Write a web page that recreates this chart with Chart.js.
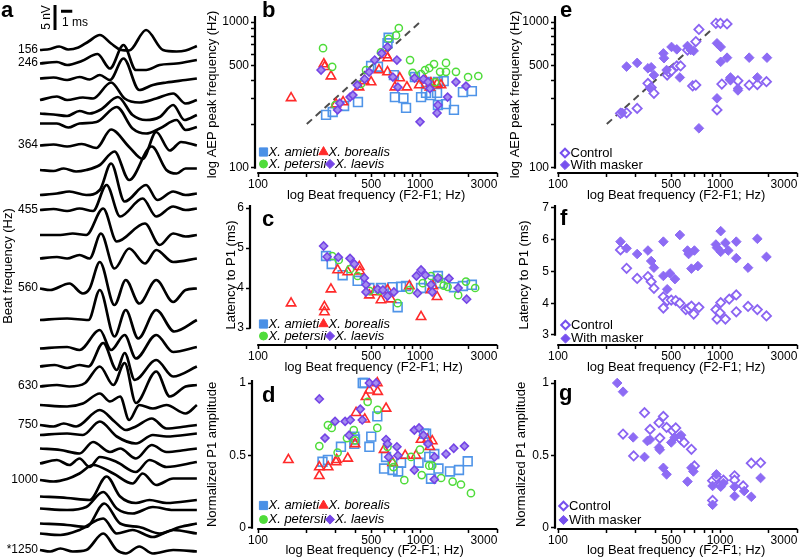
<!DOCTYPE html>
<html><head><meta charset="utf-8">
<script src="https://cdn.jsdelivr.net/npm/chart.js@4.4.1/dist/chart.umd.min.js"></script>
<style>
html,body{margin:0;padding:0;background:#fff;width:800px;height:558px;overflow:hidden;position:relative}
canvas{position:absolute}
</style></head><body>
<script>
// ===================== DATA =====================
// Panel a: AEP waveforms (time in ms, amplitude in nV), stacked by beat frequency
const traceLabels = ['156','246','','','','','364','','','455','','','560','','','','630','','750','','','','1000','','','','','*1250'];
const traceOffsetNV = [10,12.7,15.7,20,22.7,24.7,29.1,34,39,42,47,51.7,57.7,64,69.7,73.3,77.3,81,85,87,89.7,92.7,96,99.3,101.7,104.7,106.7,110];
const traceTimesMs = [
[0,0.9,1.7,2.5,3.4,4.3,5.3,6.3,7.2,7.9,9.4,10.9,12.1,12.9,13.9],
[0,1.5,2.4,3.7,5.1,6.2,7.4,8.5,9.4,10.6,12.1,13.9],
[0,1.2,2.4,3.5,4.4,5.3,6.2,7.4,8.8,10,11.2,12.9,13.9],
[0,1.5,2.4,3.8,4.7,6.3,7.5,8.8,10.3,11.8,12.9,13.9],
[0,1.2,2.4,3.5,4.4,5.4,6.9,8.2,9.4,10.6,11.8,12.8,13.9],
[0,1.5,2.5,3.5,5,6.8,8.2,9.4,10.6,12.1,12.9,13.9],
[0,1.2,2.4,3.7,5,6.3,7.9,9.1,10.3,11.5,12.5,13.9],
[0,1.2,2.1,3.2,4.1,5.3,6.6,7.9,9.9,11.2,12.1,12.9,13.9],
[0,1.5,2.6,4.1,5.3,6.3,7.5,9.4,10.4,11.8,12.9,13.9],
[0,1.2,2.4,3.5,4.7,5.9,7.1,9.1,10.3,11.8,12.9,13.9],
[0,1.8,2.9,4.1,5.6,6.8,9.3,10.6,11.8,12.9,13.9],
[0,1.5,2.4,3.5,4.4,5.4,6.6,7.9,9.3,10.3,11.8,13.9],
[0,0.9,2.6,3.8,4.4,5.3,6.6,7.6,8.8,10.3,11.8,12.9,13.9],
[0,2.4,4.3,5.3,6.6,7.6,8.7,10.3,11.9,13.9],
[0,2.4,3.5,5.3,6.3,7.5,8.5,10.3,11.8,13.9],
[0,1.3,2.4,3.5,4.3,5.6,6.8,7.5,8.4,10.3,11.8,13.9],
[0,1.5,2.6,4,5.3,6.5,7.5,8.5,10.3,11.5,12.9,13.9],
[0,2.4,3.8,5.3,6.2,7.1,7.9,8.8,10,11.2,12.9,13.9],
[0,1.2,2.1,3.2,5.3,6.6,7.6,8.5,9.9,11.2,12.9,13.9],
[0,2.4,3.8,5.3,6.8,8.5,10,11.2,13.9],
[0,1.8,3.5,4.7,6.2,7.1,8.5,9.9,11.2,12.9,13.9],
[0,1.5,2.6,3.5,4.4,5.3,6.8,8.5,9.7,11.2,13.9],
[0,1.2,2.4,3.5,4.7,6.5,8.2,9.1,10.3,11.8,13.9],
[0,2.4,4.4,5.9,7.1,8.5,9.7,11.2,13.9],
[0,2.4,4.1,5.6,6.8,8.2,10,11.8,13.9],
[0,2.4,4.1,5.7,7.1,8.8,10.6,12.4,13.9],
[0,1.8,3.5,5.6,6.8,8.2,10,11.8,13.9],
[0,0.9,1.8,2.9,4.1,5.6,6.8,7.6,8.8,10,11.8,13.9]
];
const traceAmpsNV = [
[0,0.2,0.7,0.1,0.5,1.7,3,1.3,0,-0.1,4,0,-0.3,-0.1,0.8],
[0,0.3,-0.3,0.5,1.9,-1,3.7,-1.3,-1.3,-0.3,0,0.7],
[0,0.2,-0.3,0.3,-0.2,0.7,-0.3,4,-2.3,-1.3,-0.8,-0.3,0],
[0,0.7,0,0.5,0.3,3.5,0.3,-0.5,0.3,1.3,-0.7,0],
[0,-0.2,-0.5,0.5,0,0.8,3.3,-0.3,-1.3,-0.7,1.7,-1.3,-0.3],
[0,0,-0.8,0,0.3,3.3,-1,-2,-1,0.7,-1.3,-0.7],
[0,0.2,-0.2,0.3,-0.5,3.2,-0.3,-2.7,2.7,-1,0.7,0],
[0,-0.2,0.3,-0.3,0,1,3.7,-2,4.7,0,-0.7,0.3,0.3],
[0,0.3,0.7,0,1,6.3,-1.3,2,-1,0.7,0,0.3],
[0,0.2,-0.2,0.3,-0.2,5,-1.3,2.3,-1.3,0.7,0,0.3],
[0,0,0.3,0,5.3,-1.3,2.3,-2,0.3,-0.3,0],
[0,0.3,0,0.7,0,5,-2,2,-1,1.7,-0.7,0],
[0,-0.3,1,-1,0,5.3,-3.3,1.7,-3,1.7,-2.7,-0.3,0],
[0,0.3,0,6,-3.3,2,-3.7,2,-2.3,0],
[0,0.3,-0.3,3.7,-0.3,2.7,-2,2.7,-0.7,0.3],
[0,0.3,-0.3,0.3,0,4.7,-0.7,2.7,-2.7,1.3,-2,0],
[0,0.3,0,0.7,4,0.3,4.7,-3.3,3,-2,0,0.3],
[0,-0.3,0.3,2.3,0.7,1.7,-3,0,-0.7,0,-1.7,0],
[0,-0.3,0.3,-0.3,3,0.7,-1,-0.3,1.3,-0.7,-0.3,0],
[0,0.3,0,2.7,-0.3,-1.7,0,-0.3,0.3],
[0,-0.3,-1,1.3,-0.7,0,-2,0.7,-0.7,-0.3,0],
[0,0.7,-0.3,1,-0.7,1.3,0.3,-1.7,0.7,-0.7,0.3],
[0,-0.3,0.2,1.3,3,1.3,-0.7,1.3,-1,0.3,0.3],
[0,-0.3,-0.7,4,0,-1.3,-0.7,-1.3,-0.7],
[0,-0.3,0.3,3.3,0,-1,0.3,-0.3,-0.3],
[0,-0.3,-0.7,4,0,-0.7,-2,-0.7,0],
[0,-0.3,0.7,3,0,0.7,-0.7,0.7,0],
[0,-0.3,0.3,-0.3,0,3.3,0,-0.7,0.7,-0.7,0,-0.3]
];
const scaleBarNV = 5, scaleBarMs = 1;

// Shared x axis (beat frequency, Hz)
const xTickValues = [100,200,300,400,500,600,700,800,900,1000,2000,3000];
const xTickLabels = ['100','','','','500','','','','','1000','','3000'];
const logYTickValues = [100,200,300,400,500,600,700,800,900,1000];
const logYTickLabels = ['100','','','','500','','','','','1000'];
const latYTickValues = [3,4,5,6];
const latYTickValuesF = [3,4,5,6,7];
const ampYTickValues = [0,0.5,1];
const ampYTickLabels = ['0','0.5','1'];

// Panel b: AEP peak frequency vs beat frequency
const bAmietiX = [263,289,340,414,499,550,630,640,690,700,790,820,1015,1089,1169,1274,1400,1447,1290,1620,1840,2090,1089,1290,930];
const bAmietiY = [231,242,266,283,500,494,716,780,433,306,301,258,306,327,316,327,394,274,270,250,331,336,388,388,420];
const bBorealisX = [160,255,258,282,303,335,420,452,499,558,617,630,630,700,750,830,990,1075,1169,1274,1348,1150];
const bBorealisY = [302,515,493,426,274,283,358,395,388,469,594,567,454,358,413,358,370,401,382,376,370,358];
const bPetersiiX = [252,287,300,432,574,640,711,740,868,1015,1075,1140,1220,1330,1447,1447,1667,1980,2290,1240,900,464];
const bPetersiiY = [662,493,270,376,620,768,810,910,549,440,469,484,515,456,525,456,456,420,427,388,448,469];
const bLaevisX = [245,310,320,370,385,410,455,485,525,580,630,720,680,925,1050,1120,1150,1290,1274,1480,1667,1922,1000,730];
const bLaevisY = [469,250,278,306,316,370,407,454,549,610,675,549,420,413,407,388,350,270,238,306,388,364,207,358];
const bUnityLine = [200,1000];

// Panel c: latency to P1 (ms)
const cAmietiX = [263,285,333,412,487,574,677,728,764,820,1015,1140,1290,1330,1620,1840,2090];
const cAmietiY = [4.8,4.6,4.32,4.18,4.0,4.0,4.02,3.52,4.03,4.05,4.0,4.2,4.3,4.12,4.02,4.05,4.08];
const cBorealisX = [160,257,257,282,310,358,422,425,487,523,574,630,662,860,1015,1169,1274,1200];
const cBorealisY = [3.62,3.53,3.4,3.97,4.45,4.4,4.53,4.42,3.82,3.9,3.7,3.95,3.72,4.05,3.28,3.95,3.78,4.05];
const cPetersiiX = [287,315,370,412,487,560,728,860,1040,1169,1310,1480,1720,1922,2190,1400];
const cPetersiiY = [4.8,4.7,4.47,4.3,3.93,3.93,3.62,3.95,4.12,4.3,4.24,4.03,3.82,4.16,4.0,4.06];
const cLaevisX = [254,267,313,370,393,453,464,464,548,590,630,690,965,1015,1080,950,1169,1190,1290,1510,1720,1940];
const cLaevisY = [5.05,4.78,4.77,4.74,4.6,4.25,4.08,3.9,3.97,3.95,3.8,3.9,3.87,4.45,4.32,4.3,4.08,3.9,4.25,4.24,4.0,3.72];

// Panel d: normalized P1 amplitude
const dAmietiX = [250,270,325,393,397,393,443,455,487,500,545,600,617,677,733,764,980,1060,1090,1140,1169,1225,1300,1530,1740,1970];
const dAmietiY = [0.457,0.47,0.56,0.63,0.61,0.58,1,1,0.56,0.63,0.77,0.41,0.49,0.40,0.39,0.45,0.45,0.65,0.65,0.49,0.34,0.51,0.41,0.39,0.40,0.46];
const dBorealisX = [154,239,239,271,303,306,358,397,403,456,464,487,545,548,617,600,677,810,945,1015,1110,1190,1150];
const dBorealisY = [0.47,0.42,0.36,0.42,0.455,0.47,0.48,0.58,0.795,0.75,0.905,0.95,1,0.94,0.825,0.54,0.45,0.50,0.50,0.61,0.61,0.60,0.56];
const dPetersiiX = [239,270,285,310,354,390,397,475,545,548,630,670,685,800,880,1000,1025,1140,1190,1350,1590,1790,2063];
const dPetersiiY = [0.565,0.71,0.69,0.52,0.62,0.675,0.605,0.87,0.69,0.815,0.56,0.45,0.42,0.33,0.49,0.54,0.365,0.43,0.43,0.345,0.32,0.30,0.24];
const dLaevisX = [239,259,299,345,371,365,428,440,487,535,617,630,640,720,730,923,923,986,1050,1120,1225,1230,1447,1615,1880];
const dLaevisY = [0.89,0.62,0.735,0.735,0.745,0.64,0.82,0.745,1,1,0.61,0.58,0.49,0.56,0.50,0.675,0.40,0.69,0.64,0.58,0.335,0.49,0.51,0.55,0.565];

// Panel e: peak frequency, control vs masker
const eControlX = [243,265,308,359,376,391,472,480,502,541,571,630,678,709,709,741,943,1006,1105,958,1026,1290,1514,1700,1935,1160];
const eControlY = [237,239,256,380,356,325,433,456,463,500,500,643,365,370,735,890,980,980,970,250,376,396,370,373,390,405];
const eMaskerX = [249,265,308,359,376,391,370,447,451,468,502,541,565,630,660,688,741,958,1010,958,1010,1105,1160,1160,1290,1290,1514,1700,1950];
const eMaskerY = [239,495,525,482,490,433,352,610,565,469,675,650,417,685,643,635,187,715,675,300,534,570,417,400,350,340,570,417,570];
const eUnityLine = [200,900];

// Panel f: latency
const fControlX = [243,265,308,359,376,391,447,472,500,533,565,447,615,640,666,688,741,943,958,1000,1010,1080,1140,1260,1260,1490,1700,1935];
const fControlY = [5.68,5.1,4.78,4.84,4.68,4.47,4.2,4.08,4.1,4.08,4.0,3.85,3.8,3.84,3.91,3.66,3.87,3.8,3.5,3.7,4.02,3.5,4.13,4.26,3.73,3.9,3.8,3.6];
const fMaskerX = [243,265,308,359,376,391,447,447,472,491,527,565,630,640,666,695,730,943,958,1010,1010,1080,1125,1260,1260,1490,1700,1935];
const fMaskerY = [5.94,5.73,5.55,5.66,5.33,5.12,5.94,4.86,4.44,4.94,4.76,6.15,5.66,5.55,5.09,5.66,5.17,5.85,5.75,6.27,5.62,5.9,5.66,5.94,5.42,5.12,6.03,5.46];

// Panel g: amplitude
const gControlX = [252,293,342,370,420,447,425,468,510,533,560,575,600,666,695,900,900,950,1010,1050,1230,1230,1390,1560,1780];
const gControlY = [0.648,0.497,0.795,0.68,0.726,0.77,0.62,0.694,0.67,0.69,0.625,0.61,0.59,0.543,0.428,0.326,0.19,0.35,0.30,0.33,0.36,0.33,0.29,0.447,0.45];
const gMaskerX = [232,252,291,342,356,370,420,425,447,468,500,525,575,630,666,685,900,900,950,1010,1050,1230,1230,1410,1560,1780];
const gMaskerY = [1,0.94,0.625,0.49,0.60,0.61,0.555,0.54,0.415,0.37,0.59,0.625,0.64,0.32,0.415,0.39,0.29,0.16,0.37,0.285,0.31,0.285,0.22,0.255,0.215,0.345];

// ===================== RENDERING =====================
const FONT = "'Liberation Sans', Arial, Helvetica, sans-serif";
Chart.defaults.font.family = FONT;
Chart.defaults.font.size = 12;
Chart.defaults.color = '#000';

const COL = {am:'#4a90e6', bo:'#ff2a2a', pe:'#4fdc3a', la:'#7444e6', laFill:'#a58cf0', ctl:'#8a63f2', msk:'#8d6bf4', legP:'#7650ee'};

function makeCanvas(id, left, top, w, h){
  const c = document.createElement('canvas');
  c.id = id; c.width = w; c.height = h;
  c.style.left = left+'px'; c.style.top = top+'px';
  c.style.width = w+'px'; c.style.height = h+'px';
  document.body.appendChild(c);
  return c;
}

// Prism-style offset axis lines, drawn along the library's scales
const prismAxes = {
  id:'prismAxes',
  afterDraw(chart, args, o){
    if(!o || !o.on) return;
    const {ctx, chartArea:ca, scales:{x,y}} = chart;
    ctx.save();
    ctx.strokeStyle = '#000'; ctx.lineWidth = 2.2;
    ctx.beginPath();
    ctx.moveTo(ca.left, y.getPixelForValue(o.yLo) + 0.8);
    ctx.lineTo(ca.left, ca.top);
    ctx.moveTo(x.getPixelForValue(o.xLo) - 0.8, ca.bottom);
    ctx.lineTo(ca.right, ca.bottom);
    ctx.stroke();
    ctx.restore();
  }
};

// Text / legend decorations (page coordinates, shifted by canvas origin)
const decor = {
  id:'decor',
  afterDraw(chart, args, o){
    if(!o || !o.items) return;
    const ctx = chart.ctx;
    ctx.save();
    ctx.translate(-o.ox, -o.oy);
    for(const it of o.items){
      if(it.text !== undefined){
        ctx.font = it.font; ctx.fillStyle = it.color || '#000';
        ctx.textAlign = it.align || 'left'; ctx.textBaseline = it.baseline || 'middle';
        if(it.rot){ ctx.save(); ctx.translate(it.x, it.y); ctx.rotate(it.rot); ctx.fillText(it.text,0,0); ctx.restore(); }
        else ctx.fillText(it.text, it.x, it.y);
      } else if(it.marker){
        ctx.fillStyle = it.fill; ctx.strokeStyle = it.stroke; ctx.lineWidth = it.lw || 1;
        Chart.helpers.drawPoint(ctx, {pointStyle:it.marker, radius:it.r, borderWidth:it.lw||1, rotation:0}, it.x, it.y);
      }
    }
    ctx.restore();
  }
};
Chart.register(prismAxes, decor);

const LEG = 'italic 13px ' + FONT;
const LET = 'bold 22px ' + FONT;
function speciesLegend(y1, y2){
  return [
    {marker:'rect', r:5.8, fill:COL.am, stroke:COL.am, lw:1, x:263.5, y:y1},
    {text:'X. amieti', font:LEG, x:268.5, y:y1},
    {marker:'triangle', r:5.4, fill:COL.bo, stroke:COL.bo, lw:1, x:323.5, y:y1},
    {text:'X. borealis', font:LEG, x:328.5, y:y1},
    {marker:'circle', r:4, fill:COL.pe, stroke:COL.pe, lw:1, x:263.5, y:y2},
    {text:'X. petersii', font:LEG, x:268.5, y:y2},
    {marker:'rectRot', r:4.6, fill:COL.la, stroke:COL.la, lw:1, x:330, y:y2},
    {text:'X. laevis', font:LEG, x:335, y:y2}
  ];
}
function maskerLegend(x, y1, y2){
  return [
    {marker:'rectRot', r:4.3, fill:'#fff', stroke:COL.legP, lw:2, x:x, y:y1},
    {text:'Control', font:'13px '+FONT, x:x+5.5, y:y1},
    {marker:'rectRot', r:4.6, fill:COL.legP, stroke:COL.legP, lw:1, x:x, y:y2},
    {text:'With masker', font:'13px '+FONT, x:x+5.5, y:y2}
  ];
}

function pts(xs, ys){ return xs.map((x,i)=>({x:x, y:ys[i]})); }
function ds(xs, ys, st, order){
  return Object.assign({data:pts(xs,ys), order:order, showLine:false, clip:false}, st);
}
const stAm = {pointStyle:'rect', pointRadius:6.2, pointBorderWidth:1.6, pointBorderColor:'#4f94e8', pointBackgroundColor:'rgba(0,0,0,0)', borderColor:'#4f94e8', backgroundColor:'rgba(0,0,0,0)'};
const stBo = {pointStyle:'triangle', pointRadius:5.4, pointBorderWidth:1.6, pointBorderColor:COL.bo, pointBackgroundColor:'rgba(0,0,0,0)', borderColor:COL.bo, backgroundColor:'rgba(0,0,0,0)'};
const stPe = {pointStyle:'circle', pointRadius:3.6, pointBorderWidth:1.5, pointBorderColor:COL.pe, pointBackgroundColor:'rgba(0,0,0,0)', borderColor:COL.pe, backgroundColor:'rgba(0,0,0,0)'};
const stLa = {pointStyle:'rectRot', pointRadius:4.0, pointBorderWidth:1.6, pointBorderColor:COL.la, pointBackgroundColor:COL.laFill, borderColor:COL.la, backgroundColor:COL.laFill};
const stCtl = {pointStyle:'rectRot', pointRadius:4.6, pointBorderWidth:1.8, pointBorderColor:COL.ctl, pointBackgroundColor:'#fff', borderColor:COL.ctl, backgroundColor:'#fff'};
const stMsk = {pointStyle:'rectRot', pointRadius:4.8, pointBorderWidth:1, pointBorderColor:COL.msk, pointBackgroundColor:COL.msk, borderColor:COL.msk, backgroundColor:COL.msk};
function unity(vals){
  return {type:'line', data:vals.map(v=>({x:v,y:v})), showLine:true, pointRadius:0, borderColor:'#4d4d4d', borderWidth:2, borderDash:[7,5], order:10, clip:false};
}

const X_TITLE = 'log Beat frequency (F2-F1; Hz)';
function axisCommon(){
  return {
    grid:{display:true, drawOnChartArea:false, drawTicks:true, tickLength:4, tickWidth:1.5, tickColor:'#000', color:'#000'},
    border:{display:false}
  };
}

function scatterPanel(p){
  const cv = makeCanvas(p.id, p.left, p.top, p.w, p.h);
  const xAxis = Object.assign(axisCommon(), {
    type:'logarithmic', min:p.xMin, max:3000,
    afterBuildTicks:(s)=>{ s.ticks = xTickValues.map(v=>({value:v})); },
    afterFit:(s)=>{ s.height = p.xAxisH; },
    ticks:{autoSkip:false, maxRotation:0, minRotation:0, padding:0, font:{size:12},
      callback:(v,i,t)=> (i === t.length-1 ? xTickLabels[i] + '        ' : xTickLabels[i])},
    title:{display:true, text:X_TITLE, font:{size:13}, padding:{top:0,bottom:0}}
  });
  const yAxis = Object.assign(axisCommon(), {
    type:p.yType, min:p.yMin, max:p.yMax,
    afterBuildTicks:(s)=>{ s.ticks = p.yTicks.map(v=>({value:v})); },
    afterFit:(s)=>{ s.width = p.yAxisW; },
    ticks:{autoSkip:false, padding:2, font:{size:12}, callback:(v,i)=>p.yLabels[i]},
    title:{display:true, text:p.yTitle, font:{size:13}, padding:{top:5,bottom:0}}
  });
  new Chart(cv, {
    type:'scatter',
    data:{datasets:p.datasets},
    options:{
      responsive:false, animation:false, events:[],
      layout:{padding:{left:0, top:p.padTop, right:p.padRight, bottom:0}},
      scales:{x:xAxis, y:yAxis},
      plugins:{legend:{display:false}, tooltip:{enabled:false},
        prismAxes:{on:true, xLo:100, yLo:p.yLo},
        decor:{ox:p.left, oy:p.top, items:p.items}}
    }
  });
}

// ---------- Panel a ----------
(function(){
  const cv = makeCanvas('pa', 0, 0, 200, 558);
  const datasets = traceTimesMs.map((ts,i)=>({
    data: ts.map((t,j)=>({x:t, y:-traceOffsetNV[i] + traceAmpsNV[i][j]})),
    borderColor:'#000', borderWidth:2.7, pointRadius:0, fill:false,
    cubicInterpolationMode:'monotone', clip:false
  }));
  const aLabels = {
    id:'aLabels',
    afterDraw(chart){
      const {ctx, scales:{x,y}} = chart;
      ctx.save();
      ctx.fillStyle = '#000';
      ctx.font = '12px ' + FONT; ctx.textAlign = 'right'; ctx.textBaseline = 'middle';
      traceLabels.forEach((l,i)=>{ if(l) ctx.fillText(l, 38, y.getPixelForValue(-traceOffsetNV[i]) - 0.5); });
      // y title
      ctx.save(); ctx.translate(8, 266); ctx.rotate(-Math.PI/2);
      ctx.font = '13px ' + FONT; ctx.textAlign = 'center'; ctx.fillText('Beat frequency (Hz)', 0, 0); ctx.restore();
      // panel letter
      ctx.font = 'bold 22px ' + FONT; ctx.textAlign = 'left'; ctx.textBaseline = 'alphabetic';
      ctx.fillText('a', 1, 17);
      // scale bars (via scales)
      ctx.strokeStyle = '#000'; ctx.lineWidth = 3;
      const vx = x.getPixelForValue(1.33);
      ctx.beginPath(); ctx.moveTo(vx, y.getPixelForValue(-1)); ctx.lineTo(vx, y.getPixelForValue(-1 - scaleBarNV)); ctx.stroke();
      const hy = y.getPixelForValue(-2.25);
      ctx.beginPath(); ctx.moveTo(x.getPixelForValue(1.86), hy); ctx.lineTo(x.getPixelForValue(1.86 + scaleBarMs), hy); ctx.stroke();
      ctx.font = '12px ' + FONT; ctx.textBaseline = 'middle';
      ctx.save(); ctx.translate(46.5, 17.5); ctx.rotate(-Math.PI/2); ctx.textAlign='center'; ctx.fillText(scaleBarNV + ' nV', 0, 0); ctx.restore();
      ctx.textAlign = 'left'; ctx.fillText(scaleBarMs + ' ms', 62, 22.5);
      ctx.restore();
    }
  };
  new Chart(cv, {
    type:'line',
    data:{datasets},
    options:{
      responsive:false, animation:false, events:[],
      layout:{padding:{left:40, right:2, top:0, bottom:0}},
      scales:{x:{type:'linear', min:0, max:14, display:false}, y:{type:'linear', min:-111.6, max:0, display:false}},
      plugins:{legend:{display:false}, tooltip:{enabled:false}}
    },
    plugins:[aLabels]
  });
})();

// ---------- Panels b-d ----------
scatterPanel({id:'pb', left:200, top:0, w:332, h:203, padTop:16, padRight:34.7, yAxisW:55, xAxisH:30,
  xMin:95.8, yType:'logarithmic', yMin:92.4, yMax:1100, yTicks:logYTickValues, yLabels:logYTickLabels, yLo:100,
  yTitle:'log AEP peak frequency (Hz)',
  datasets:[unity(bUnityLine), ds(bAmietiX,bAmietiY,stAm,4), ds(bBorealisX,bBorealisY,stBo,3), ds(bPetersiiX,bPetersiiY,stPe,2), ds(bLaevisX,bLaevisY,stLa,1)],
  items:[{text:'b', font:LET, x:262, y:17, baseline:'alphabetic'}].concat(speciesLegend(152,164))
});
scatterPanel({id:'pc', left:219, top:189, w:313, h:186, padTop:16, padRight:34.7, yAxisW:31, xAxisH:30,
  xMin:89.25, yType:'linear', yMin:2.575, yMax:6.075, yTicks:latYTickValues, yLabels:latYTickValues.map(String), yLo:3,
  yTitle:'Latency to P1 (ms)',
  datasets:[ds(cAmietiX,cAmietiY,stAm,4), ds(cBorealisX,cBorealisY,stBo,3), ds(cPetersiiX,cPetersiiY,stPe,2), ds(cLaevisX,cLaevisY,stLa,1)],
  items:[{text:'c', font:LET, x:262, y:226, baseline:'alphabetic'}].concat(speciesLegend(324,336))
});
scatterPanel({id:'pd', left:200, top:364, w:332, h:194, padTop:16, padRight:34.7, yAxisW:52, xAxisH:29,
  xMin:91.8, yType:'linear', yMin:-0.0069, yMax:1.0207, yTicks:ampYTickValues, yLabels:ampYTickLabels, yLo:0,
  yTitle:'Normalized P1 amplitude',
  datasets:[ds(dAmietiX,dAmietiY,stAm,4), ds(dBorealisX,dBorealisY,stBo,3), ds(dPetersiiX,dPetersiiY,stPe,2), ds(dLaevisX,dLaevisY,stLa,1)],
  items:[{text:'d', font:LET, x:262, y:402, baseline:'alphabetic'}].concat(speciesLegend(505.5,519.5))
});

// ---------- Panels e-g ----------
scatterPanel({id:'pe', left:503, top:0, w:329, h:203, padTop:16, padRight:34.7, yAxisW:52, xAxisH:30,
  xMin:95.8, yType:'logarithmic', yMin:92.4, yMax:1100, yTicks:logYTickValues, yLabels:logYTickLabels, yLo:100,
  yTitle:'log AEP peak frequency (Hz)',
  datasets:[unity(eUnityLine), ds(eControlX,eControlY,stCtl,2), ds(eMaskerX,eMaskerY,stMsk,1)],
  items:[{text:'e', font:LET, x:560, y:17, baseline:'alphabetic'}].concat(maskerLegend(565,153,165))
});
scatterPanel({id:'pf', left:512, top:189, w:320, h:186, padTop:16, padRight:34.7, yAxisW:43, xAxisH:30,
  xMin:95.8, yType:'linear', yMin:2.685, yMax:7.094, yTicks:latYTickValuesF, yLabels:latYTickValuesF.map(String), yLo:3,
  yTitle:'Latency to P1 (ms)',
  datasets:[ds(fControlX,fControlY,stCtl,2), ds(fMaskerX,fMaskerY,stMsk,1)],
  items:[{text:'f', font:LET, x:560, y:225, baseline:'alphabetic'}].concat(maskerLegend(565.5,325,338.5))
});
scatterPanel({id:'pg', left:509, top:364, w:323, h:194, padTop:16, padRight:34.7, yAxisW:46, xAxisH:29,
  xMin:95.8, yType:'linear', yMin:-0.0069, yMax:1.0207, yTicks:ampYTickValues, yLabels:ampYTickLabels, yLo:0,
  yTitle:'Normalized P1 amplitude',
  datasets:[ds(gControlX,gControlY,stCtl,2), ds(gMaskerX,gMaskerY,stMsk,1)],
  items:[{text:'g', font:LET, x:559, y:400, baseline:'alphabetic'}].concat(maskerLegend(563.5,506,520))
});
</script>
</body></html>
